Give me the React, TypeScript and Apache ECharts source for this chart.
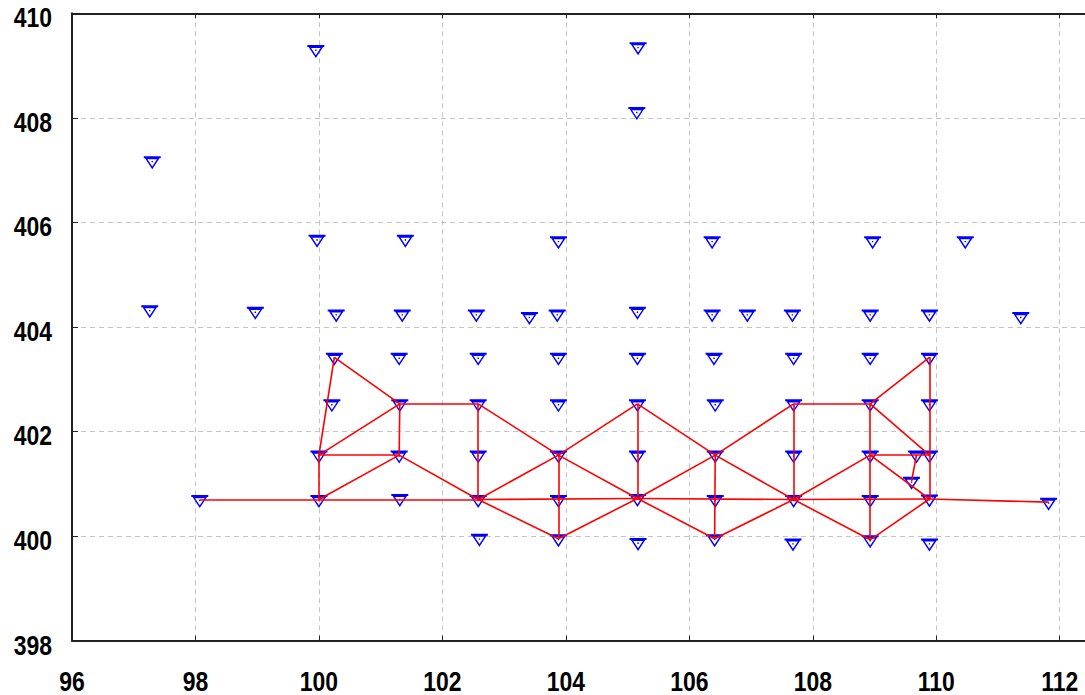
import React, { useEffect, useRef } from "react";
import * as echarts from "echarts";

// ---- data ----
const xTickMin = 96;
const xAxisMax = 112.41;
const xTickStep = 2;
const yTickMin = 398;
const yTickMax = 410;
const yTickStep = 2;
const xTickLabels = [96, 98, 100, 102, 104, 106, 108, 110, 112];
const yTickLabels = [398, 400, 402, 404, 406, 408, 410];

// survey points (blue inverted triangles)
const pointX = [
  // row ~400.7 (bottom chord)
  98.07, 100.0, 101.31, 102.58, 103.88, 105.16, 106.42, 107.69, 108.93, 109.89, 111.82,
  // row ~401.55
  100.0, 101.3, 102.58, 103.88, 105.16, 106.42, 107.69, 108.93, 109.68, 109.89, 109.6,
  // row ~402.5
  100.21, 101.31, 102.58, 103.88, 105.16, 106.42, 107.69, 108.93, 109.89,
  // row ~403.4
  100.25, 101.3, 102.58, 103.88, 105.16, 106.4, 107.69, 108.93, 109.89,
  // row ~399.9
  102.6, 103.88, 105.17, 106.41, 107.68, 108.93, 109.89,
  // row ~404.25
  97.26, 98.97, 100.28, 101.35, 102.55, 103.41, 103.86, 105.16, 106.37, 106.94, 107.67, 108.93, 109.89, 111.37,
  // row ~405.65
  99.97, 101.4, 103.88, 106.37, 108.97, 110.47,
  // top
  97.3, 99.95, 105.17, 105.15,
];
const pointY = [
  400.7, 400.7, 400.72, 400.7, 400.7, 400.72, 400.7, 400.7, 400.7, 400.71, 400.65,
  401.55, 401.55, 401.55, 401.55, 401.55, 401.55, 401.55, 401.55, 401.55, 401.55, 401.05,
  402.53, 402.53, 402.53, 402.53, 402.53, 402.53, 402.53, 402.53, 402.53,
  403.42, 403.42, 403.42, 403.42, 403.42, 403.42, 403.42, 403.42, 403.42,
  399.96, 399.95, 399.88, 399.95, 399.87, 399.93, 399.87,
  404.33, 404.3, 404.25, 404.25, 404.25, 404.2, 404.25, 404.3, 404.25, 404.25, 404.25, 404.25, 404.25, 404.2,
  405.68, 405.68, 405.65, 405.65, 405.65, 405.65,
  407.18, 409.31, 409.36, 408.12,
];

// red connections, as pairs of point indices
const edgeFrom = [
  0, 1, 3, 5, 7, 9,
  1, 11, 31, 11, 11, 23, 1, 23, 24, 12, 24, 3, 3, 14, 14, 41, 14, 26, 26, 5, 5, 16, 16, 16, 43, 28, 28, 7, 7, 29, 18, 29, 39, 29, 18, 19, 18, 45,
];
const edgeTo = [
  1, 3, 5, 7, 9, 10,
  11, 31, 23, 23, 12, 12, 12, 24, 3, 3, 14, 14, 41, 41, 26, 5, 5, 5, 16, 16, 43, 43, 28, 7, 7, 7, 29, 18, 45, 18, 45, 39, 9, 20, 20, 21, 9, 9,
];

const markerPath =
  "path://M0,0 L17,0 L17,2 L15.7,2 L8.5,13 L1.3,2 L0,2 Z M3.7,3.1 L8.5,10.3 L13.3,3.1 Z M7.8,4.7 L9.2,4.7 L9.2,6.1 L7.8,6.1 Z";

const labelFont = "'Liberation Sans', Arial, sans-serif";
const labelFontSize = 26;
const labelScaleY = 28 / 26;
const labelScaleX = 0.82 * labelScaleY;

export default function App() {
  const ref = useRef<HTMLDivElement>(null);
  useEffect(() => {
    if (!ref.current) return;
    const chart = echarts.init(ref.current, undefined, { renderer: "svg" });
    const points = pointX.map((x, i) => [x, pointY[i]]);
    const edges = edgeFrom.map((a, i) => ({
      coords: [points[a], points[edgeTo[i]]],
    }));
    const gridLine = { show: true, lineStyle: { color: "#c4c4c4", type: [5, 4] as any, width: 1 } };
    const axisLine = { show: true, lineStyle: { color: "#222", width: 2 } };
    chart.setOption({
      animation: false,
      backgroundColor: "#ffffff",
      grid: { left: 72, right: 0, top: 13.3, bottom: 54.3, containLabel: false },
      xAxis: [
        {
          type: "value",
          position: "bottom",
          min: xTickMin,
          max: xAxisMax,
          interval: xTickStep,
          axisLine,
          axisTick: { show: true, inside: true, length: 5, lineStyle: { color: "#222", width: 1 } },
          splitLine: gridLine,
          axisLabel: { show: false },
        },
        {
          type: "value",
          position: "top",
          min: xTickMin,
          max: xAxisMax,
          interval: xTickStep,
          axisLine,
          axisTick: { show: true, inside: true, length: 5, lineStyle: { color: "#222", width: 1 } },
          splitLine: { show: false },
          axisLabel: { show: false },
        },
      ],
      yAxis: {
        type: "value",
        min: yTickMin,
        max: yTickMax,
        interval: yTickStep,
        axisLine,
        axisTick: { show: true, inside: true, length: 6, lineStyle: { color: "#222", width: 1 } },
        splitLine: gridLine,
        axisLabel: { show: false },
      },
      series: [
        {
          type: "scatter",
          data: points,
          symbol: markerPath,
          symbolSize: [17, 13],
          symbolOffset: [0, 2],
          itemStyle: { color: "#0000ff", opacity: 1 },
          z: 2,
        },
        {
          type: "lines",
          coordinateSystem: "cartesian2d",
          data: edges,
          lineStyle: { color: "#ff0000", width: 1.6, opacity: 1 },
          z: 3,
        },
      ],
    });

    // condensed (narrow) tick labels placed at the axes' own tick positions
    const labelStyle = {
      fill: "#000",
      fontSize: labelFontSize,
      lineHeight: 20,
      fontWeight: "bold",
      fontFamily: labelFont,
    };
    const graphics: any[] = [];
    xTickLabels.forEach((v) => {
      const p = chart.convertToPixel({ xAxisIndex: 0, yAxisIndex: 0 }, [v, yTickMin]) as number[];
      graphics.push({
        type: "text",
        x: p[0],
        y: p[1] + 40,
        scaleX: labelScaleX,
        scaleY: labelScaleY,
        style: { ...labelStyle, text: String(v), align: "center", verticalAlign: "middle" },
      });
    });
    yTickLabels.forEach((v) => {
      const p = chart.convertToPixel({ xAxisIndex: 0, yAxisIndex: 0 }, [xTickMin, v]) as number[];
      graphics.push({
        type: "text",
        x: p[0] - 20,
        y: p[1] + 4,
        scaleX: labelScaleX,
        scaleY: labelScaleY,
        style: { ...labelStyle, text: String(v), align: "right", verticalAlign: "middle" },
      });
    });
    chart.setOption({ graphic: graphics });
    return () => chart.dispose();
  }, []);
  return (
    <div
      ref={ref}
      style={{ position: "fixed", left: 0, top: 0, width: 1085, height: 695, background: "#fff" }}
    />
  );
}
